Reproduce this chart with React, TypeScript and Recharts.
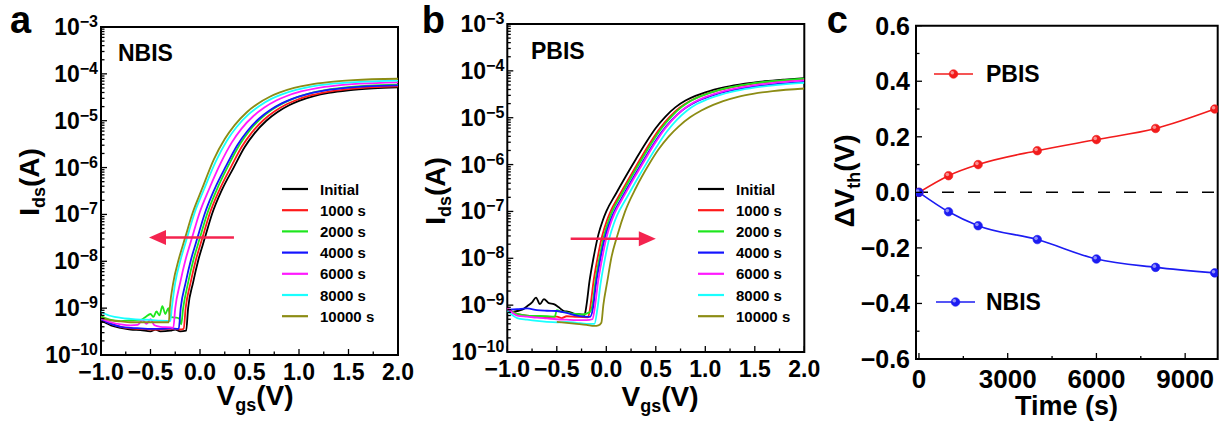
import React from 'react'
import { LineChart, Line, XAxis, YAxis, ReferenceArea, ReferenceLine, Legend } from 'recharts'

const FONT = "'Liberation Sans', Arial, Helvetica, sans-serif"
const ARROW = '#f4244f'
const MINUS = '\u2212'

const seriesNames = ['Initial', '1000 s', '2000 s', '4000 s', '6000 s', '8000 s', '10000 s']
const seriesColors = ['#000000', '#ff1a1a', '#1ee61e', '#1414ff', '#ff1aff', '#1affff', '#8c8c14']

// NBIS transfer curves [Vgs, Ids]
const nbisInitial = [
  [-1.0, 5.5e-10], [-0.9, 4.3e-10], [-0.8, 3.8e-10], [-0.7, 3.5e-10], [-0.6, 3.4e-10], [-0.5, 3.2e-10], [-0.45, 3.5e-10],
  [-0.4, 3.2e-10], [-0.3, 3.3e-10], [-0.25, 3.5e-10], [-0.2, 3.2e-10], [-0.14, 3.3e-10],
  [-0.12, 1.0e-9], [-0.07, 3.5e-9], [-0.015, 1.1e-8], [0.05, 3.2e-8], [0.12, 1.0e-7], [0.22, 3.3e-7],
  [0.34, 1.0e-6], [0.45, 2.71e-6], [0.55, 5.38e-6], [0.67, 1.0e-5], [0.78, 1.52e-5], [0.9, 2.14e-5], [1.0, 2.65e-5],
  [1.15, 3.34e-5], [1.3, 3.91e-5], [1.5, 4.47e-5], [1.75, 4.9e-5], [2.0, 5.15e-5],
]
const nbis1000 = [
  [-1.0, 5.8e-10], [-0.9, 4.6e-10], [-0.8, 4.0e-10], [-0.7, 3.7e-10], [-0.6, 3.6e-10], [-0.5, 3.5e-10], [-0.4, 3.5e-10],
  [-0.3, 3.6e-10], [-0.2, 3.5e-10], [-0.165, 3.6e-10],
  [-0.145, 1.0e-9], [-0.095, 3.5e-9], [-0.04, 1.1e-8], [0.025, 3.2e-8], [0.095, 1.0e-7], [0.195, 3.3e-7],
  [0.315, 1.05e-6], [0.425, 2.84e-6], [0.525, 5.64e-6], [0.645, 1.05e-5], [0.755, 1.59e-5], [0.875, 2.24e-5], [0.975, 2.77e-5],
  [1.125, 3.5e-5], [1.275, 4.09e-5], [1.475, 4.68e-5], [1.725, 5.13e-5], [2.0, 5.41e-5],
]
const nbis2000 = [
  [-1.0, 6.8e-10], [-0.9, 5.6e-10], [-0.8, 5.3e-10], [-0.7, 5.5e-10], [-0.6, 5.6e-10], [-0.55, 6.5e-10], [-0.5, 7.5e-10],
  [-0.47, 6.5e-10], [-0.44, 8.5e-10], [-0.41, 7.0e-10], [-0.38, 1.1e-9], [-0.35, 7.5e-10], [-0.32, 1.0e-9], [-0.3, 6.5e-10],
  [-0.25, 6.3e-10], [-0.21, 6.0e-10], [-0.19, 4.5e-10],
  [-0.17, 1.0e-9], [-0.12, 3.5e-9], [-0.065, 1.1e-8], [0.0, 3.2e-8], [0.07, 1.0e-7], [0.17, 3.4e-7],
  [0.29, 1.14e-6], [0.4, 3.08e-6], [0.5, 6.11e-6], [0.62, 1.14e-5], [0.73, 1.73e-5], [0.85, 2.43e-5], [0.95, 3.01e-5],
  [1.1, 3.79e-5], [1.25, 4.44e-5], [1.45, 5.07e-5], [1.7, 5.57e-5], [2.0, 5.89e-5],
]
const nbis4000 = [
  [-1.0, 5.8e-10], [-0.9, 4.6e-10], [-0.8, 4.0e-10], [-0.7, 3.8e-10], [-0.6, 3.7e-10], [-0.5, 3.6e-10], [-0.4, 3.6e-10],
  [-0.3, 3.7e-10], [-0.215, 3.6e-10],
  [-0.195, 1.0e-9], [-0.145, 3.5e-9], [-0.09, 1.1e-8], [-0.025, 3.2e-8], [0.045, 1.0e-7], [0.145, 3.4e-7],
  [0.265, 1.1e-6], [0.375, 2.97e-6], [0.475, 5.9e-6], [0.595, 1.1e-5], [0.705, 1.67e-5], [0.825, 2.35e-5], [0.925, 2.9e-5],
  [1.075, 3.66e-5], [1.225, 4.29e-5], [1.425, 4.9e-5], [1.675, 5.38e-5], [2.0, 5.7e-5],
]
const nbis6000 = [
  [-1.0, 6.0e-10], [-0.9, 5.0e-10], [-0.8, 4.5e-10], [-0.7, 4.3e-10], [-0.63, 4.4e-10], [-0.58, 5.6e-10], [-0.54, 4.6e-10],
  [-0.5, 5.8e-10], [-0.46, 4.3e-10], [-0.4, 4.0e-10], [-0.3, 3.9e-10], [-0.27, 3.8e-10],
  [-0.25, 1.0e-9], [-0.2, 3.5e-9], [-0.145, 1.1e-8], [-0.08, 3.2e-8], [-0.01, 1.0e-7], [0.09, 3.4e-7],
  [0.21, 1.26e-6], [0.32, 3.41e-6], [0.42, 6.78e-6], [0.54, 1.26e-5], [0.65, 1.91e-5], [0.77, 2.7e-5], [0.87, 3.33e-5],
  [1.02, 4.21e-5], [1.17, 4.92e-5], [1.37, 5.62e-5], [1.62, 6.17e-5], [2.0, 6.59e-5],
]
const nbis8000 = [
  [-1.0, 8.3e-10], [-0.9, 6.8e-10], [-0.8, 6.2e-10], [-0.7, 5.9e-10], [-0.6, 5.7e-10], [-0.5, 5.6e-10], [-0.4, 5.4e-10], [-0.3, 5.3e-10],
  [-0.285, 1.0e-9], [-0.25, 3.5e-9], [-0.195, 1.1e-8], [-0.13, 3.2e-8], [-0.06, 1.0e-7], [0.04, 3.4e-7],
  [0.16, 1.36e-6], [0.27, 3.7e-6], [0.37, 7.35e-6], [0.49, 1.36e-5], [0.6, 2.07e-5], [0.72, 2.92e-5], [0.82, 3.61e-5],
  [0.97, 4.56e-5], [1.12, 5.33e-5], [1.32, 6.1e-5], [1.57, 6.69e-5], [2.0, 7.17e-5],
]
const nbis10000 = [
  [-1.0, 6.2e-10], [-0.9, 5.5e-10], [-0.8, 5.2e-10], [-0.7, 5.0e-10], [-0.6, 5.0e-10], [-0.5, 5.0e-10], [-0.4, 5.0e-10], [-0.315, 5.0e-10],
  [-0.305, 1.0e-9], [-0.27, 3.5e-9], [-0.215, 1.1e-8], [-0.15, 3.2e-8], [-0.08, 1.0e-7], [0.02, 3.5e-7],
  [0.14, 1.5e-6], [0.25, 4.06e-6], [0.35, 8.05e-6], [0.47, 1.5e-5], [0.58, 2.28e-5], [0.7, 3.21e-5], [0.8, 3.96e-5],
  [0.95, 5.0e-5], [1.1, 5.85e-5], [1.3, 6.68e-5], [1.55, 7.34e-5], [2.0, 7.87e-5],
]

// PBIS transfer curves [Vgs, Ids]
const pbisInitial = [
  [-1.0, 8.0e-10], [-0.95, 7.2e-10], [-0.9, 7.5e-10], [-0.85, 8.0e-10], [-0.8, 9.5e-10], [-0.75, 1.15e-9], [-0.71, 1.45e-9],
  [-0.67, 1.05e-9], [-0.63, 1.35e-9], [-0.58, 1.1e-9], [-0.53, 1.05e-9], [-0.48, 9.0e-10], [-0.43, 7.5e-10], [-0.38, 7.2e-10],
  [-0.33, 6.6e-10], [-0.28, 6.4e-10], [-0.22, 6.2e-10],
  [-0.2, 1.0e-9], [-0.17, 3.2e-9], [-0.13, 1.0e-8], [-0.08, 3.2e-8], [-0.035, 6.5e-8], [0.0, 1.0e-7], [0.1, 2.45e-7],
  [0.2, 5.78e-7], [0.3, 1.32e-6], [0.4, 2.93e-6], [0.5, 6.03e-6], [0.6, 1.07e-5], [0.7, 1.68e-5], [0.8, 2.32e-5],
  [0.9, 2.92e-5], [1.0, 3.48e-5], [1.2, 4.49e-5], [1.4, 5.33e-5], [1.6, 6.0e-5], [1.8, 6.53e-5], [2.0, 7.0e-5],
]
const pbis1000 = [
  [-1.0, 8.5e-10], [-0.9, 6.5e-10], [-0.8, 6.0e-10], [-0.7, 5.8e-10], [-0.6, 5.5e-10], [-0.5, 5.7e-10], [-0.45, 5.3e-10],
  [-0.4, 5.8e-10], [-0.3, 5.6e-10], [-0.185, 5.5e-10],
  [-0.16, 9.7e-10], [-0.13, 3.1e-9], [-0.09, 9.7e-9], [-0.04, 3.1e-8], [0.005, 6.3e-8], [0.04, 9.7e-8], [0.14, 2.38e-7],
  [0.24, 5.6e-7], [0.34, 1.28e-6], [0.44, 2.84e-6], [0.54, 5.85e-6], [0.64, 1.04e-5], [0.74, 1.63e-5], [0.84, 2.25e-5],
  [0.94, 2.83e-5], [1.04, 3.38e-5], [1.24, 4.36e-5], [1.44, 5.17e-5], [1.64, 5.82e-5], [1.84, 6.33e-5], [2.0, 6.6e-5],
]
const pbis2000 = [
  [-1.0, 8.0e-10], [-0.9, 6.5e-10], [-0.8, 6.0e-10], [-0.7, 5.9e-10], [-0.6, 5.8e-10], [-0.52, 5.7e-10], [-0.5, 7.8e-10],
  [-0.45, 7.2e-10], [-0.4, 7.0e-10], [-0.35, 6.6e-10], [-0.3, 6.5e-10], [-0.25, 6.3e-10], [-0.17, 7.0e-10],
  [-0.14, 1.0e-9], [-0.11, 3.2e-9], [-0.07, 1.0e-8], [-0.02, 3.2e-8], [0.025, 6.5e-8], [0.06, 1.0e-7], [0.16, 2.45e-7],
  [0.26, 5.78e-7], [0.36, 1.32e-6], [0.46, 2.93e-6], [0.56, 6.03e-6], [0.66, 1.07e-5], [0.76, 1.68e-5], [0.86, 2.32e-5],
  [0.96, 2.92e-5], [1.06, 3.48e-5], [1.26, 4.49e-5], [1.46, 5.33e-5], [1.66, 6.0e-5], [1.86, 6.53e-5], [2.0, 6.85e-5],
]
const pbis4000 = [
  [-1.0, 8.0e-10], [-0.9, 8.2e-10], [-0.8, 8.5e-10], [-0.7, 7.8e-10], [-0.6, 7.6e-10], [-0.5, 7.5e-10], [-0.4, 6.8e-10],
  [-0.3, 6.0e-10], [-0.165, 5.6e-10],
  [-0.135, 8.5e-10], [-0.105, 2.72e-9], [-0.065, 8.5e-9], [-0.015, 2.72e-8], [0.03, 5.5e-8], [0.065, 8.5e-8], [0.165, 2.08e-7],
  [0.265, 4.91e-7], [0.365, 1.12e-6], [0.465, 2.49e-6], [0.565, 5.13e-6], [0.665, 9.1e-6], [0.765, 1.43e-5], [0.865, 1.97e-5],
  [0.965, 2.48e-5], [1.065, 2.96e-5], [1.265, 3.82e-5], [1.465, 4.53e-5], [1.665, 5.1e-5], [1.865, 5.55e-5], [2.0, 5.8e-5],
]
const pbis6000 = [
  [-1.0, 8.5e-10], [-0.9, 6.0e-10], [-0.8, 5.7e-10], [-0.7, 5.4e-10], [-0.6, 5.2e-10], [-0.5, 5.0e-10], [-0.4, 4.9e-10],
  [-0.3, 4.8e-10], [-0.2, 4.8e-10], [-0.14, 5.0e-10],
  [-0.115, 9.2e-10], [-0.085, 2.94e-9], [-0.045, 9.2e-9], [0.005, 2.94e-8], [0.05, 6.0e-8], [0.085, 9.2e-8], [0.185, 2.25e-7],
  [0.285, 5.32e-7], [0.385, 1.21e-6], [0.485, 2.7e-6], [0.585, 5.55e-6], [0.685, 9.84e-6], [0.785, 1.55e-5], [0.885, 2.13e-5],
  [0.985, 2.69e-5], [1.085, 3.2e-5], [1.285, 4.13e-5], [1.485, 4.9e-5], [1.685, 5.52e-5], [1.885, 6.01e-5], [2.0, 6.25e-5],
]
const pbis8000 = [
  [-1.0, 7.5e-10], [-0.9, 5.3e-10], [-0.8, 4.9e-10], [-0.7, 4.6e-10], [-0.6, 4.4e-10], [-0.5, 4.3e-10], [-0.4, 4.4e-10],
  [-0.3, 4.2e-10], [-0.2, 4.0e-10], [-0.12, 4.0e-10],
  [-0.09, 8.3e-10], [-0.06, 2.66e-9], [-0.02, 8.3e-9], [0.03, 2.66e-8], [0.075, 5.4e-8], [0.11, 8.3e-8], [0.21, 2.03e-7],
  [0.31, 4.8e-7], [0.41, 1.1e-6], [0.51, 2.43e-6], [0.61, 5.0e-6], [0.71, 8.88e-6], [0.81, 1.39e-5], [0.91, 1.93e-5],
  [1.01, 2.42e-5], [1.11, 2.89e-5], [1.31, 3.73e-5], [1.51, 4.42e-5], [1.71, 4.98e-5], [1.91, 5.42e-5], [2.0, 5.55e-5],
]
const pbis10000 = [
  [-0.5, 4.4e-10], [-0.4, 4.2e-10], [-0.3, 4.0e-10], [-0.2, 3.8e-10], [-0.12, 3.6e-10], [-0.08, 3.7e-10], [-0.05, 4.2e-10],
  [-0.03, 1.0e-9], [0.01, 3.2e-9], [0.05, 1.0e-8], [0.11, 3.0e-8], [0.19, 1.0e-7], [0.3, 3.2e-7],
  [0.43, 1.0e-6], [0.53, 2.14e-6], [0.63, 3.95e-6], [0.73, 6.46e-6], [0.85, 1.03e-5], [0.96, 1.42e-5], [1.08, 1.88e-5],
  [1.18, 2.26e-5], [1.33, 2.79e-5], [1.48, 3.23e-5], [1.68, 3.71e-5], [2.0, 4.2e-5],
]

// threshold shift vs stress time
const stressTime = [0, 1000, 2000, 4000, 6000, 8000, 10000]
const pbisShift = [0, 0.06, 0.1, 0.15, 0.19, 0.23, 0.3]
const nbisShift = [0, -0.07, -0.12, -0.17, -0.24, -0.27, -0.29]

const vgsTicks = [-1, -0.75, -0.5, -0.25, 0, 0.25, 0.5, 0.75, 1, 1.25, 1.5, 1.75, 2]
const decades = [1e-10, 1e-9, 1e-8, 1e-7, 1e-6, 1e-5, 1e-4, 1e-3]
const timeTicks = [0, 1500, 3000, 4500, 6000, 7500, 9000]
const shiftTicks = [-0.6, -0.5, -0.4, -0.3, -0.2, -0.1, 0, 0.1, 0.2, 0.3, 0.4, 0.5, 0.6]

const logTicks: number[] = []
decades.forEach((d, k) => {
  if (k === decades.length - 1) logTicks.push(d)
  else for (let m = 1; m <= 9; m++) logTicks.push(m * d)
})

const toPts = (arr: number[][]) => arr.map(([v, i]) => ({ v, i }))
const nbisCurves = [nbisInitial, nbis1000, nbis2000, nbis4000, nbis6000, nbis8000, nbis10000].map(toPts)
const pbisCurves = [pbisInitial, pbis1000, pbis2000, pbis4000, pbis6000, pbis8000, pbis10000].map(toPts)
const stressRows = stressTime.map((t, k) => ({ t, pbis: pbisShift[k], nbis: nbisShift[k] }))

const bold = { fontFamily: FONT, fontWeight: 700, fill: '#000' }
const signed = (v: number, digits: number) =>
  v < -1e-9 ? MINUS + Math.abs(v).toFixed(digits) : Math.abs(v).toFixed(digits)

function LogTick(props: any) {
  const { x, y, payload } = props
  const v = payload.value
  const e = Math.floor(Math.log10(v) + 1e-6)
  const major = Math.abs(v / Math.pow(10, e) - 1) < 1e-6
  return (
    <g>
      <line x1={x} x2={x + (major ? 6 : 3.5)} y1={y} y2={y} stroke="#000" strokeWidth={1.3} />
      {major && (
        <text x={x - 3} y={y + 8} textAnchor="end" fontSize={23} {...bold}>
          10<tspan dy={-8} fontSize={16}>{signed(e, 0)}</tspan>
        </text>
      )}
    </g>
  )
}

function VgsTick(props: any) {
  const { x, y, payload } = props
  const v = payload.value
  const major = Math.abs(v * 2 - Math.round(v * 2)) < 1e-6
  return (
    <g>
      <line x1={x} x2={x} y1={y} y2={y - (major ? 6 : 3.5)} stroke="#000" strokeWidth={1.3} />
      {major && (
        <text x={x} y={y + 25} textAnchor="middle" fontSize={23} {...bold}>
          {signed(v, 1)}
        </text>
      )}
    </g>
  )
}

function TimeTick(props: any) {
  const { x, y, payload } = props
  const v = payload.value
  const major = v % 3000 === 0
  return (
    <g>
      <line x1={x} x2={x} y1={y} y2={y - (major ? 6 : 3)} stroke="#000" strokeWidth={1.3} />
      {major && (
        <text x={x} y={y + 29} textAnchor="middle" fontSize={26} {...bold}>
          {v}
        </text>
      )}
    </g>
  )
}

function ShiftTick(props: any) {
  const { x, y, payload } = props
  const v = payload.value
  const major = Math.round(v * 10) % 2 === 0
  return (
    <g>
      <line x1={x} x2={x + (major ? 6 : 3.5)} y1={y} y2={y} stroke="#000" strokeWidth={1.3} />
      {major && (
        <text x={x - 6} y={y + 9} textAnchor="end" fontSize={25} {...bold}>
          {signed(v, 1)}
        </text>
      )}
    </g>
  )
}

function ShiftArrow(props: any) {
  const { x1, y1, x2, y2 } = props
  const dir = x2 > x1 ? 1 : -1
  const head = 17
  const half = 7.5
  return (
    <g>
      <line x1={x1} y1={y1} x2={x2 - dir * head * 0.8} y2={y2} stroke={ARROW} strokeWidth={2.5} />
      <polygon points={`${x2},${y2} ${x2 - dir * head},${y2 - half} ${x2 - dir * head},${y2 + half}`} fill={ARROW} />
    </g>
  )
}

function SeriesKey({ payload }: any) {
  const items = [...(payload || [])].sort(
    (a: any, b: any) => seriesNames.indexOf(a.value) - seriesNames.indexOf(b.value)
  )
  return (
    <svg width={120} height={150} style={{ display: 'block', overflow: 'visible' }}>
      {items.map((p: any, k: number) => (
        <g key={p.value}>
          <line x1={2} x2={28} y1={11 + k * 21.2} y2={11 + k * 21.2} stroke={p.color} strokeWidth={2.2} />
          <text x={40} y={16.5 + k * 21.2} fontSize={15} {...bold}>
            {p.value}
          </text>
        </g>
      ))}
    </svg>
  )
}

function Bead(props: any) {
  const { cx, cy, stroke } = props
  if (cx == null || cy == null) return null
  return (
    <g>
      <circle cx={cx} cy={cy} r={4.3} fill={stroke} stroke={stroke} strokeWidth={0.6} />
      <circle cx={cx - 1.2} cy={cy - 1.2} r={1.8} fill="#fff" fillOpacity={0.5} />
    </g>
  )
}

function StressKey({ payload }: any) {
  const rowY: Record<string, number> = { PBIS: 74, NBIS: 302 }
  const rowX: Record<string, number> = { PBIS: 114, NBIS: 116 }
  return (
    <svg width={402} height={425} style={{ display: 'block' }}>
      {(payload || []).map((p: any) => {
        const y = rowY[p.value]
        const x = rowX[p.value]
        return (
          <g key={p.value}>
            <line x1={x} x2={x + 39} y1={y} y2={y} stroke={p.color} strokeWidth={1.6} />
            <Bead cx={x + 19.5} cy={y} stroke={p.color} />
            <text x={166} y={y + 8} fontSize={23} {...bold}>
              {p.value}
            </text>
          </g>
        )
      })}
    </svg>
  )
}

type PanelProps = {
  left: number
  width: number
  margin: { top: number; right: number; bottom: number; left: number }
  curves: { v: number; i: number }[][]
  letter: string
  letterX: number
  tag: string
  tagX: number
  tagY: number
  arrow: [number, number, number]
  keyLeft: number
  yTitle: { x: number; y: number }
  xTitle: { x: number; y: number }
}

function TransferPanel(p: PanelProps) {
  return (
    <div style={{ position: 'absolute', left: p.left, top: 0 }}>
      <LineChart width={p.width} height={425} margin={p.margin}>
        <XAxis
          dataKey="v"
          type="number"
          domain={[-1, 2]}
          ticks={vgsTicks}
          interval={0}
          tick={(t: any) => <VgsTick {...t} />}
          tickSize={0}
          tickMargin={0}
          axisLine={false}
          height={30}
          allowDataOverflow
        />
        <YAxis
          type="number"
          scale="log"
          domain={[1e-10, 1e-3]}
          ticks={logTicks}
          interval={0}
          tick={(t: any) => <LogTick {...t} />}
          tickSize={0}
          tickMargin={0}
          axisLine={false}
          width={60}
          allowDataOverflow
        />
        <ReferenceArea x1={-1} x2={2} y1={1e-10} y2={1e-3} fill="none" fillOpacity={0} stroke="#000" strokeWidth={2} ifOverflow="visible" />
        {p.curves.map((c, k) => (
          <Line
            key={seriesNames[k]}
            data={c}
            dataKey="i"
            name={seriesNames[k]}
            type="monotone"
            stroke={seriesColors[k]}
            strokeWidth={1.8}
            dot={false}
            activeDot={false}
            isAnimationActive={false}
          />
        ))}
        <ReferenceLine
          segment={[{ x: p.arrow[0], y: p.arrow[2] }, { x: p.arrow[1], y: p.arrow[2] }]}
          ifOverflow="visible"
          shape={(s: any) => <ShiftArrow {...s} />}
        />
        <Legend
          layout="horizontal"
          verticalAlign="middle"
          align="center"
          wrapperStyle={{ left: p.keyLeft, top: 178, width: 120, height: 150 }}
          content={(l: any) => <SeriesKey payload={l.payload} />}
        />
        <text x={p.letterX} y={33} fontSize={38} {...bold}>{p.letter}</text>
        <text x={p.tagX} y={p.tagY} fontSize={23} {...bold}>{p.tag}</text>
        <text transform={`translate(${p.yTitle.x},${p.yTitle.y}) rotate(-90)`} textAnchor="middle" fontSize={28} {...bold}>
          I<tspan dy={6} fontSize={18}>ds</tspan><tspan dy={-6}>(A)</tspan>
        </text>
        <text x={p.xTitle.x} y={p.xTitle.y} textAnchor="middle" fontSize={28} {...bold}>
          V<tspan dy={6} fontSize={18}>gs</tspan><tspan dy={-6}>(V)</tspan>
        </text>
      </LineChart>
    </div>
  )
}

function StressPanel() {
  return (
    <div style={{ position: 'absolute', left: 820, top: 0 }}>
      <LineChart width={402} height={425} data={stressRows} margin={{ top: 25.7, right: 4.3, bottom: 36, left: 36 }}>
        <XAxis
          dataKey="t"
          type="number"
          domain={[-100, 10100]}
          ticks={timeTicks}
          interval={0}
          tick={(t: any) => <TimeTick {...t} />}
          tickSize={0}
          tickMargin={0}
          axisLine={false}
          height={30}
          allowDataOverflow
        />
        <YAxis
          type="number"
          domain={[-0.6, 0.6]}
          ticks={shiftTicks}
          interval={0}
          tick={(t: any) => <ShiftTick {...t} />}
          tickSize={0}
          tickMargin={0}
          axisLine={false}
          width={60}
          allowDataOverflow
        />
        <ReferenceArea x1={-100} x2={10100} y1={-0.6} y2={0.6} fill="none" fillOpacity={0} stroke="#000" strokeWidth={2} ifOverflow="visible" />
        <ReferenceLine y={0} stroke="#000" strokeWidth={1.5} strokeDasharray="12 14" />
        <Line
          dataKey="pbis"
          name="PBIS"
          type="monotone"
          stroke="#f21c1c"
          strokeWidth={1.6}
          dot={(d: any) => <Bead key={`p${d.index}`} {...d} />}
          activeDot={false}
          isAnimationActive={false}
        />
        <Line
          dataKey="nbis"
          name="NBIS"
          type="monotone"
          stroke="#1c1cf2"
          strokeWidth={1.6}
          dot={(d: any) => <Bead key={`n${d.index}`} {...d} />}
          activeDot={false}
          isAnimationActive={false}
        />
        <Legend
          layout="horizontal"
          verticalAlign="middle"
          align="center"
          wrapperStyle={{ left: 0, top: 0, width: 402, height: 425 }}
          content={(l: any) => <StressKey payload={l.payload} />}
        />
        <text x={6.7} y={33} fontSize={38} {...bold}>c</text>
        <text transform="translate(34,181) rotate(-90)" textAnchor="middle" fontSize={28} {...bold}>
          ΔV<tspan dy={6} fontSize={18}>th</tspan><tspan dy={-6}>(V)</tspan>
        </text>
        <text x={246.5} y={415} textAnchor="middle" fontSize={27} {...bold}>Time (s)</text>
      </LineChart>
    </div>
  )
}

export default function App() {
  return (
    <div style={{ position: 'absolute', left: 0, top: 0, width: 1222, height: 425, background: '#fff', overflow: 'hidden' }}>
      <TransferPanel
        left={0}
        width={425}
        margin={{ top: 27, right: 27, bottom: 40, left: 41 }}
        curves={nbisCurves}
        letter="a"
        letterX={10}
        tag="NBIS"
        tagX={118}
        tagY={61}
        arrow={[0.343, -0.515, 3.2e-8]}
        keyLeft={280}
        yTitle={{ x: 39, y: 182 }}
        xTitle={{ x: 255, y: 405 }}
      />
      <TransferPanel
        left={410}
        width={410}
        margin={{ top: 24, right: 15.7, bottom: 43, left: 37.3 }}
        curves={pbisCurves}
        letter="b"
        letterX={11.7}
        tag="PBIS"
        tagX={121}
        tagY={59}
        arrow={[-0.36, 0.5, 2.6e-8]}
        keyLeft={285.7}
        yTitle={{ x: 35, y: 191 }}
        xTitle={{ x: 250, y: 406 }}
      />
      <StressPanel />
    </div>
  )
}
